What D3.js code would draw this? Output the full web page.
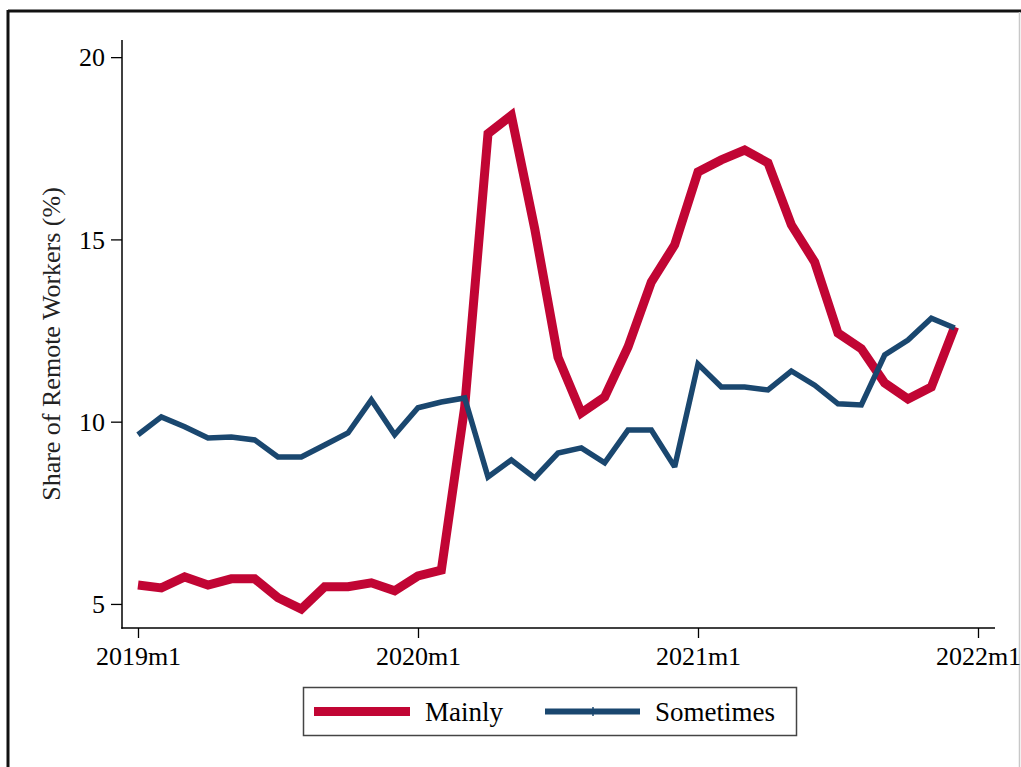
<!DOCTYPE html>
<html>
<head>
<meta charset="utf-8">
<script src="https://cdn.jsdelivr.net/npm/d3@7/dist/d3.min.js"></script>
<style>
  html, body { margin: 0; padding: 0; background: #ffffff; }
  svg { display: block; }
  text { font-family: "Liberation Serif", "Times New Roman", serif; fill: #000; }
</style>
</head>
<body>
<svg id="chart" width="1021" height="767"></svg>
<script>
// ---- data (monthly, 2019m1 .. 2021m12) ----
const months = d3.range(36); // 0 = 2019m1
const mainly = [5.52, 5.44, 5.74, 5.52, 5.69, 5.69, 5.17, 4.86, 5.47, 5.47, 5.58, 5.36,
                5.77, 5.93, 10.4, 17.9, 18.4, 15.3, 11.77, 10.24, 10.68, 12.05, 13.83, 14.85,
                16.85, 17.18, 17.45, 17.1, 15.4, 14.38, 12.43, 12.0, 11.06, 10.62, 10.95, 12.6];
const sometimes = [9.64, 10.13, 9.86, 9.55, 9.58, 9.50, 9.03, 9.03, 9.36, 9.69, 10.6, 9.64,
                   10.38, 10.54, 10.65, 8.48, 8.95, 8.46, 9.14, 9.28, 8.87, 9.77, 9.77, 8.76,
                   11.58, 10.95, 10.95, 10.87, 11.39, 11.0, 10.49, 10.46, 11.83, 12.24, 12.84, 12.57];
const xTickVals = [0, 12, 24, 36];
const xTickLabels = ["2019m1", "2020m1", "2021m1", "2022m1"];
const yTickVals = [5, 10, 15, 20];
const seriesNames = ["Mainly", "Sometimes"];
const seriesColors = ["#c10534", "#1a476f"];

const svg = d3.select("#chart");

// outer frame
svg.append("line").attr("x1", 8).attr("x2", 1021).attr("y1", 11).attr("y2", 11)
  .attr("stroke", "#111").attr("stroke-width", 3);
svg.append("line").attr("x1", 8).attr("x2", 8).attr("y1", 10).attr("y2", 767)
  .attr("stroke", "#111").attr("stroke-width", 3);
svg.append("line").attr("x1", 1019.5).attr("x2", 1019.5).attr("y1", 12).attr("y2", 767)
  .attr("stroke", "#c8c8c8").attr("stroke-width", 1.5);

// scales
const x = d3.scaleLinear().domain([0, 36]).range([138, 978]);
const y = d3.scaleLinear().domain([4.34, 20.47]).range([628, 40]);

// axes
const yAxis = d3.axisLeft(y).tickValues(yTickVals).tickSize(11).tickPadding(6)
  .tickFormat(d3.format("d"));
const gy = svg.append("g").attr("transform", "translate(122,0)").call(yAxis);
gy.select(".domain").remove();
gy.selectAll(".tick line").attr("stroke", "#000").attr("stroke-width", 1.3);
gy.selectAll(".tick text").style("font-size", "26px").attr("dy", "0.34em")
  .style("font-family", "'Liberation Serif', serif");
svg.append("line").attr("x1", 122).attr("x2", 122).attr("y1", 40).attr("y2", 628.7)
  .attr("stroke", "#000").attr("stroke-width", 1.5);

const xAxis = d3.axisBottom(x).tickValues(xTickVals).tickSize(10).tickPadding(9)
  .tickFormat((d, i) => xTickLabels[i]);
const gx = svg.append("g").attr("transform", "translate(0,628)").call(xAxis);
gx.select(".domain").remove();
gx.selectAll(".tick line").attr("stroke", "#000").attr("stroke-width", 1.3);
gx.selectAll(".tick text").style("font-size", "26px")
  .style("font-family", "'Liberation Serif', serif");
svg.append("line").attr("x1", 121.3).attr("x2", 995).attr("y1", 628).attr("y2", 628)
  .attr("stroke", "#000").attr("stroke-width", 1.5);

// y title
svg.append("text")
  .attr("transform", "translate(60,344) rotate(-90)")
  .attr("text-anchor", "middle")
  .style("font-size", "26px")
  .style("fill", "#222")
  .text("Share of Remote Workers (%)");

// lines
const line = d3.line().x((d, i) => x(months[i])).y(d => y(d));
svg.append("path").datum(mainly)
  .attr("d", line).attr("fill", "none")
  .attr("stroke", seriesColors[0]).attr("stroke-width", 9)
  .attr("stroke-linejoin", "miter").attr("stroke-miterlimit", 2.5);
svg.append("path").datum(sometimes)
  .attr("d", line).attr("fill", "none")
  .attr("stroke", seriesColors[1]).attr("stroke-width", 5.5)
  .attr("stroke-linejoin", "miter").attr("stroke-miterlimit", 2.5);

// legend
const lg = svg.append("g");
lg.append("rect").attr("x", 303.5).attr("y", 687.5).attr("width", 493).attr("height", 48)
  .attr("fill", "#fff").attr("stroke", "#444").attr("stroke-width", 1.5);
lg.append("line").attr("x1", 314).attr("x2", 410).attr("y1", 711.5).attr("y2", 711.5)
  .attr("stroke", seriesColors[0]).attr("stroke-width", 9);
lg.append("text").attr("x", 425).attr("y", 721).style("font-size", "27px").text(seriesNames[0]);
lg.append("line").attr("x1", 545).attr("x2", 640).attr("y1", 711.5).attr("y2", 711.5)
  .attr("stroke", seriesColors[1]).attr("stroke-width", 6);
lg.append("line").attr("x1", 593).attr("x2", 593).attr("y1", 707).attr("y2", 716)
  .attr("stroke", seriesColors[1]).attr("stroke-width", 1.5);
lg.append("text").attr("x", 655).attr("y", 721).style("font-size", "27px").text(seriesNames[1]);
</script>
</body>
</html>
